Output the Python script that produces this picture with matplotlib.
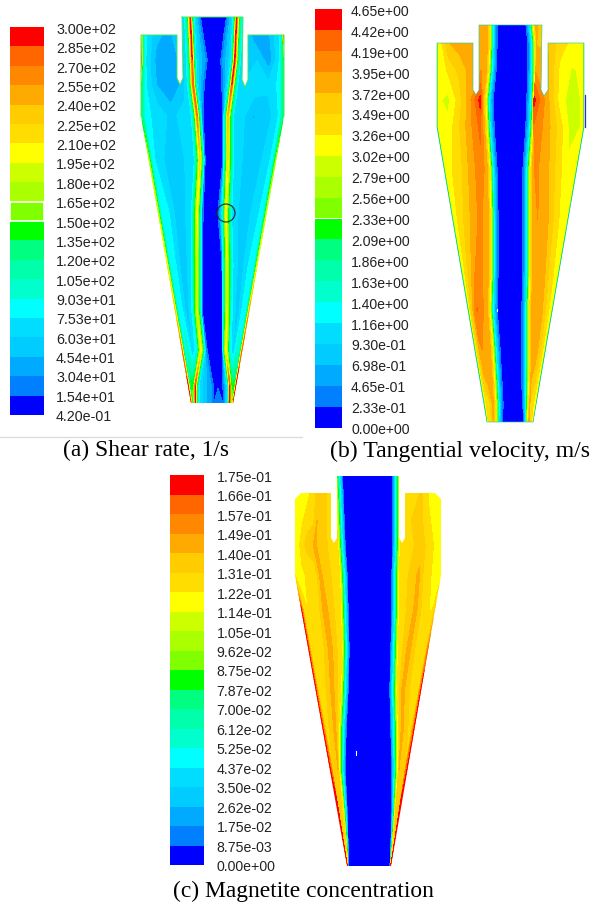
import numpy as np
import matplotlib
matplotlib.use("Agg")
import matplotlib.pyplot as plt
from matplotlib.patches import Polygon, Circle

COLORS = ["#0000ff", "#0080ff", "#00aaff", "#00ccff", "#00ddff", "#00ffff", "#00ffcc", "#00ffaa", "#00ff80", "#00ff00",
          "#80ff00", "#aaff00", "#ccff00", "#ffff00", "#ffdd00", "#ffcc00", "#ffaa00", "#ff8800", "#ff6600", "#ff0000"]

A_LABELS = ["3.00e+02", "2.85e+02", "2.70e+02", "2.55e+02", "2.40e+02", "2.25e+02", "2.10e+02", "1.95e+02", "1.80e+02", "1.65e+02",
            "1.50e+02", "1.35e+02", "1.20e+02", "1.05e+02", "9.03e+01", "7.53e+01", "6.03e+01", "4.54e+01", "3.04e+01", "1.54e+01", "4.20e-01"]
B_LABELS = ["4.65e+00", "4.42e+00", "4.19e+00", "3.95e+00", "3.72e+00", "3.49e+00", "3.26e+00", "3.02e+00", "2.79e+00", "2.56e+00",
            "2.33e+00", "2.09e+00", "1.86e+00", "1.63e+00", "1.40e+00", "1.16e+00", "9.30e-01", "6.98e-01", "4.65e-01", "2.33e-01", "0.00e+00"]
C_LABELS = ["1.75e-01", "1.66e-01", "1.57e-01", "1.49e-01", "1.40e-01", "1.31e-01", "1.22e-01", "1.14e-01", "1.05e-01", "9.62e-02",
            "8.75e-02", "7.87e-02", "7.00e-02", "6.12e-02", "5.25e-02", "4.37e-02", "3.50e-02", "2.62e-02", "1.75e-02", "8.75e-03", "0.00e+00"]
CAPTIONS = ["(a) Shear rate, 1/s", "(b) Tangential velocity, m/s", "(c) Magnetite concentration"]

# ---- panel (a): shear rate read along rows of the section
A_OUT_X = [182, 243, 242, 245, 248, 248, 284, 284, 233, 191, 141, 141, 177, 177, 180, 183, 182]
A_OUT_Y = [17, 17, 80, 87, 80, 35, 35, 116, 403, 403, 116, 35, 35, 78, 85, 78, 17]
A_WALL_Y, A_WALL_L, A_WALL_R = [35, 116, 403], [141, 141, 191], [284, 284, 233]
A_Y = [15, 35, 60, 85, 116, 160, 213, 260, 310, 350, 385, 405]
A_PK_L = [190, 191, 192, 193, 197, 200, 197, 197, 197, 201, 195, 195]
A_CR_L = [200, 203, 207, 204, 203, 205, 203, 202, 202, 207, 213, 213]
A_CR_R = [227, 224, 221, 222, 223, 223, 218, 222, 223, 223, 223, 224]
A_PK_R = [237, 236, 235, 232, 228, 228, 226, 227, 227, 226, 230, 230]
A_PK_V_L = [290, 290, 285, 285, 270, 215, 200, 190, 190, 200, 285, 290]
A_PK_V_R = [290, 290, 290, 285, 240, 215, 200, 195, 195, 200, 285, 290]
A_E_L = [150, 200, 280, 130, 130, 180, 190, 210, 230, 270, 290, 295]
A_E_R = [150, 270, 130, 130, 130, 170, 190, 200, 250, 280, 290, 295]
A_O1_L = [50, 50, 40, 45, 70, 60, 75, 75, 80, 100, 140, 180]
A_O2_L = [40, 40, 35, 30, 55, 45, 45, 45, 50, 60, 130, 180]
A_O3_L = [60, 60, 50, 50, 70, 70, 70, 75, 80, 90, 150, 180]
A_O1_R = [50, 45, 35, 65, 50, 60, 70, 75, 80, 100, 140, 180]
A_O2_R = [40, 30, 60, 70, 45, 45, 45, 50, 50, 60, 130, 180]
A_O3_R = [60, 55, 55, 60, 70, 70, 70, 75, 80, 90, 150, 180]
A_CENTER = [8, 8, 8, 8, 8, 8, 8, 8, 8, 8, 12, 32]

# ---- panel (b): tangential velocity
B_OUT_X = [479, 542, 541, 544, 548, 548, 584, 584, 533, 487, 437, 437, 473, 473, 476, 479, 479]
B_OUT_Y = [25, 25, 90, 96, 90, 43, 43, 127, 422, 422, 127, 43, 43, 90, 95, 90, 25]
B_WALL_Y, B_WALL_L, B_WALL_R = [43, 127, 422], [437, 437, 487], [584, 584, 533]
B_Y = [23, 43, 70, 100, 127, 170, 220, 270, 310, 350, 385, 405, 424]
B_PK_L = [484, 483, 481, 480, 480, 481, 480, 478, 477, 482, 487, 489, 490]
B_CR_L = [497, 497, 496, 493, 494, 497, 498, 498, 497, 500, 502, 503, 502]
B_CR_R = [526, 528, 528, 527, 526, 523, 523, 523, 522, 522, 522, 523, 524]
B_PK_R = [538, 537, 536, 534, 534, 535, 538, 538, 537, 534, 531, 530, 529]
B_PK_V_L = [3.8, 3.8, 3.95, 4.5, 4.25, 4.1, 4.0, 4.05, 4.2, 3.95, 3.7, 3.3, 3.3]
B_PK_V_R = [3.7, 3.7, 3.9, 4.5, 4.15, 4.0, 3.95, 3.95, 3.95, 3.85, 3.7, 3.4, 3.4]
B_O1_L = [3.6, 3.7, 3.3, 2.95, 3.1, 3.3, 3.4, 3.4, 3.4, 3.3, 3.2, 3.1, 3.1]
B_O2_L = [3.7, 3.85, 3.55, 3.35, 3.45, 3.5, 3.55, 3.6, 3.65, 3.6, 3.45, 3.3, 3.3]
B_O3_L = [3.7, 3.75, 3.8, 3.85, 3.85, 3.85, 3.85, 3.9, 4.1, 3.9, 3.65, 3.3, 3.3]
B_O1_R = [3.3, 3.2, 3.0, 2.85, 2.9, 3.1, 3.2, 3.25, 3.3, 3.3, 3.2, 3.1, 3.1]
B_O2_R = [3.5, 3.35, 3.2, 3.2, 3.4, 3.45, 3.5, 3.5, 3.55, 3.55, 3.45, 3.3, 3.3]
B_O3_R = [3.7, 3.7, 3.75, 3.85, 3.85, 3.85, 3.85, 3.85, 3.85, 3.8, 3.6, 3.3, 3.3]
B_CENTER = [0.1] * 13

# ---- panel (c): magnetite concentration
C_OUT_X = [337, 399, 399, 402, 405, 405, 435, 441, 441, 391, 347, 295, 295, 301, 331, 331, 334, 337, 337]
C_OUT_Y = [476, 476, 538, 543, 538, 493, 493, 499, 575, 866, 866, 575, 499, 493, 493, 538, 543, 538, 476]
C_WALL_Y, C_WALL_L, C_WALL_R = [493, 575, 866], [295, 295, 347], [441, 441, 391]
C_Y = [474, 493, 520, 545, 575, 610, 650, 690, 730, 770, 810, 845, 868]
C_PK_L = [321, 320, 317, 314, 320, 324, 330, 332, 335, 338, 341, 344, 345]
C_CR_L = [342, 343, 344, 345, 347, 348, 349, 348, 346, 345, 347, 348, 348]
C_CR_R = [393, 393, 393, 393, 392, 392, 391, 390, 391, 392, 392, 391, 390]
C_PK_R = [423, 422, 420, 421, 419, 416, 409, 403, 402, 399, 396, 394, 393]
C_PK_V_L = [0.128, 0.138, 0.14, 0.142, 0.142, 0.145, 0.145, 0.145, 0.145, 0.14, 0.135, 0.13, 0.13]
C_PK_V_R = [0.128, 0.132, 0.138, 0.135, 0.142, 0.143, 0.145, 0.145, 0.145, 0.14, 0.135, 0.13, 0.13]
C_E_L = [0.118, 0.118, 0.118, 0.118, 0.122, 0.172, 0.172, 0.172, 0.172, 0.172, 0.172, 0.174, 0.174]
C_E_R = [0.118, 0.118, 0.118, 0.118, 0.118, 0.135, 0.16, 0.172, 0.172, 0.172, 0.174, 0.174, 0.172]
C_E2_L = [0.118, 0.118, 0.118, 0.118, 0.12, 0.126, 0.128, 0.13, 0.135, 0.15, 0.172, 0.172, 0.17]
C_E2_R = [0.118, 0.118, 0.118, 0.118, 0.118, 0.122, 0.126, 0.13, 0.135, 0.15, 0.172, 0.172, 0.17]
C_O1_L = [0.118, 0.118, 0.12, 0.124, 0.121, 0.122, 0.124, 0.126, 0.128, 0.13, 0.135, 0.135, 0.135]
C_O2_L = [0.118, 0.122, 0.128, 0.134, 0.124, 0.124, 0.126, 0.13, 0.132, 0.135, 0.135, 0.135, 0.135]
C_O3_L = [0.122, 0.132, 0.13, 0.135, 0.128, 0.132, 0.135, 0.136, 0.138, 0.135, 0.135, 0.135, 0.135]
C_O1_R = [0.116, 0.116, 0.118, 0.12, 0.12, 0.122, 0.124, 0.126, 0.128, 0.13, 0.135, 0.135, 0.135]
C_O2_R = [0.118, 0.12, 0.124, 0.128, 0.124, 0.126, 0.128, 0.13, 0.132, 0.135, 0.135, 0.135, 0.135]
C_O3_R = [0.122, 0.126, 0.13, 0.132, 0.132, 0.135, 0.135, 0.136, 0.138, 0.135, 0.135, 0.135, 0.135]
C_CENTER = [0.004] * 13

# inner / outer node layout of one half-section: (anchor, pixel offset, value or row key)
A_SPEC = [("wall", -14, "e"), ("wall", 0, "e"), ("wall", 1.6, 125), ("wall", 3.5, 80), ("f", .3, "o1"), ("f", .55, "o2"), ("f", .8, "o3"),
          ("pk", -6, 72), ("pk", -2.5, 135), ("pk", 0, "pk"), ("pk", 1.6, 140), ("pk", 4, 70), ("cr", -1.5, 28), ("cr", 0, 15)]
B_SPEC = [("wall", -14, 1.2), ("wall", 0, 1.2), ("wall", 1.6, 3.05), ("f", .25, "o1"), ("f", .5, "o2"), ("f", .75, "o3"),
          ("pk", 0, "pk"), ("cr", -10, 3.8), ("cr", -8, 3.3), ("cr", -6, 2.4), ("cr", -4.5, 1.3), ("cr", -2, .6), ("cr", 0, .23)]
C_SPEC = [("wall", -14, "e"), ("wall", 0, "e"), ("wall", 2.5, "e2"), ("f", .3, "o1"), ("f", .6, "o2"), ("f", .85, "o3"),
          ("pk", 0, "pk"), ("cr", -7.5, .122), ("cr", -5.5, .09), ("cr", -3.5, .052), ("cr", -1.5, .03), ("cr", 0, .0087)]


def half(spec, sign, y, wall, pk, cr, rows):
    y = np.asarray(y, float)
    u_wall, u_pk, u_cr = sign * np.asarray(wall, float), sign * np.asarray(pk, float), sign * np.asarray(cr, float)
    scale = np.clip((u_cr - u_wall) / 18, .25, 1)
    xs, vs = [], []
    for anchor, off, val in spec:
        if anchor == "wall":
            u = u_wall + off * (scale if off > 0 else 1)
        elif anchor == "f":
            u = u_wall + off * (u_pk - u_wall)
        elif anchor == "pk":
            u = u_pk + off * scale
        else:
            u = u_cr + off * scale
        xs.append(u)
        vs.append(np.asarray(rows[val], float) if isinstance(val, str) else np.full(len(y), float(val)))
    U, V = np.array(xs).T, np.array(vs).T
    U[:, 1:] = np.clip(U[:, 1:], u_wall[:, None], u_cr[:, None])
    U[:, 1:] = np.maximum.accumulate(U[:, 1:], axis=1) + .02 * np.arange(U.shape[1] - 1)
    return sign * U, V


def section(ax, labels, spec, y, wy, wl, wr, pkl, crl, crr, pkr, left, right, center, ox, oy, edge, edge_lw=.6):
    levels = np.array([float(s) for s in labels[::-1]])
    wall_l, wall_r = np.interp(y, wy, wl), np.interp(y, wy, wr)
    XL, VL = half(spec, 1, y, wall_l, pkl, crl, left)
    XR, VR = half(spec, -1, y, wall_r, pkr, crr, right)
    mid = (np.array(crl) + np.array(crr)) / 2.0
    X = np.hstack([XL, mid[:, None], XR[:, ::-1]])
    V = np.hstack([VL, np.array(center, float)[:, None], VR[:, ::-1]])
    Y = np.tile(np.array(y, float)[:, None], (1, X.shape[1]))
    cs = ax.contourf(X, Y, V, levels=levels, colors=COLORS, extend="neither", antialiased=False)
    clip = Polygon(np.column_stack([ox, oy]), closed=True, transform=ax.transData, fc="none", ec="none")
    ax.add_patch(clip)
    cs.set_clip_path(clip)
    if edge:
        ax.add_patch(Polygon(np.column_stack([ox, oy]), closed=True, fc="none", ec=edge, lw=edge_lw))


def legend(ax, labels, x0, x1, top, bottom, lx, ly0, ly1, size):
    edges = np.linspace(top, bottom, len(labels))
    for i in range(len(labels) - 1):
        ax.bar((x0 + x1) / 2, edges[i + 1] - edges[i], x1 - x0, bottom=edges[i], color=COLORS[19 - i], lw=0)
    for s, yy in zip(labels, np.linspace(ly0, ly1, len(labels))):
        ax.text(lx, yy, s, fontsize=size, family="Liberation Sans", color="#222222", ha="left", va="center")
    return edges


fig = plt.figure(figsize=(5.92, 9.06), dpi=100)
ax = fig.add_axes([0, 0, 1, 1])
ax.set_xlim(0, 592)
ax.set_ylim(906, 0)
ax.axis("off")

section(ax, A_LABELS, A_SPEC, A_Y, A_WALL_Y, A_WALL_L, A_WALL_R, A_PK_L, A_CR_L, A_CR_R, A_PK_R,
        dict(e=A_E_L, o1=A_O1_L, o2=A_O2_L, o3=A_O3_L, pk=A_PK_V_L),
        dict(e=A_E_R, o1=A_O1_R, o2=A_O2_R, o3=A_O3_R, pk=A_PK_V_R), A_CENTER, A_OUT_X, A_OUT_Y, None)
# thin green wall layer around the upper part of (a)
ax.plot(A_OUT_X[:8], A_OUT_Y[:8], color="#40e860", lw=.7)
ax.plot(A_OUT_X[10:], A_OUT_Y[10:], color="#40e860", lw=.7)
section(ax, B_LABELS, B_SPEC, B_Y, B_WALL_Y, B_WALL_L, B_WALL_R, B_PK_L, B_CR_L, B_CR_R, B_PK_R,
        dict(o1=B_O1_L, o2=B_O2_L, o3=B_O3_L, pk=B_PK_V_L),
        dict(o1=B_O1_R, o2=B_O2_R, o3=B_O3_R, pk=B_PK_V_R), B_CENTER, B_OUT_X, B_OUT_Y, "#30c8a0", .45)
section(ax, C_LABELS, C_SPEC, C_Y, C_WALL_Y, C_WALL_L, C_WALL_R, C_PK_L, C_CR_L, C_CR_R, C_PK_R,
        dict(e=C_E_L, e2=C_E2_L, o1=C_O1_L, o2=C_O2_L, o3=C_O3_L, pk=C_PK_V_L),
        dict(e=C_E_R, e2=C_E2_R, o1=C_O1_R, o2=C_O2_R, o3=C_O3_R, pk=C_PK_V_R), C_CENTER, C_OUT_X, C_OUT_Y, None)

ea = legend(ax, A_LABELS, 10, 43.5, 27, 415, 56, 30, 417, 10.3)
legend(ax, B_LABELS, 315, 342, 9, 428, 351, 12, 430, 10.1)
legend(ax, C_LABELS, 170, 204, 475, 865, 216.5, 478, 867, 10.2)

# the highlighted legend entry and the probe circle of panel (a)
ax.bar(26.75, ea[10] - ea[9] - 1, 33.5, bottom=ea[9] + .5, color=COLORS[10], ec="white", lw=1.2)
ax.add_patch(Circle((226, 213), 9, fc="none", ec="#222222", lw=.8))
ax.plot([0, 302], [437, 437], color="#dddddd", lw=1)
ax.plot([584.5, 584.5], [95, 127], color="#3030c0", lw=.9)
ax.plot([497, 497], [309, 311], color="white", lw=.8)
ax.plot([355.5, 355.5], [751, 755], color="white", lw=.8)

serif = dict(family="Liberation Serif", color="black", ha="left", va="center")
ax.text(63, 450, CAPTIONS[0], fontsize=16.9, **serif)
ax.text(330, 451, CAPTIONS[1], fontsize=17.1, **serif)
ax.text(173, 891, CAPTIONS[2], fontsize=16.9, **serif)

fig.savefig("out.png", dpi=100)
